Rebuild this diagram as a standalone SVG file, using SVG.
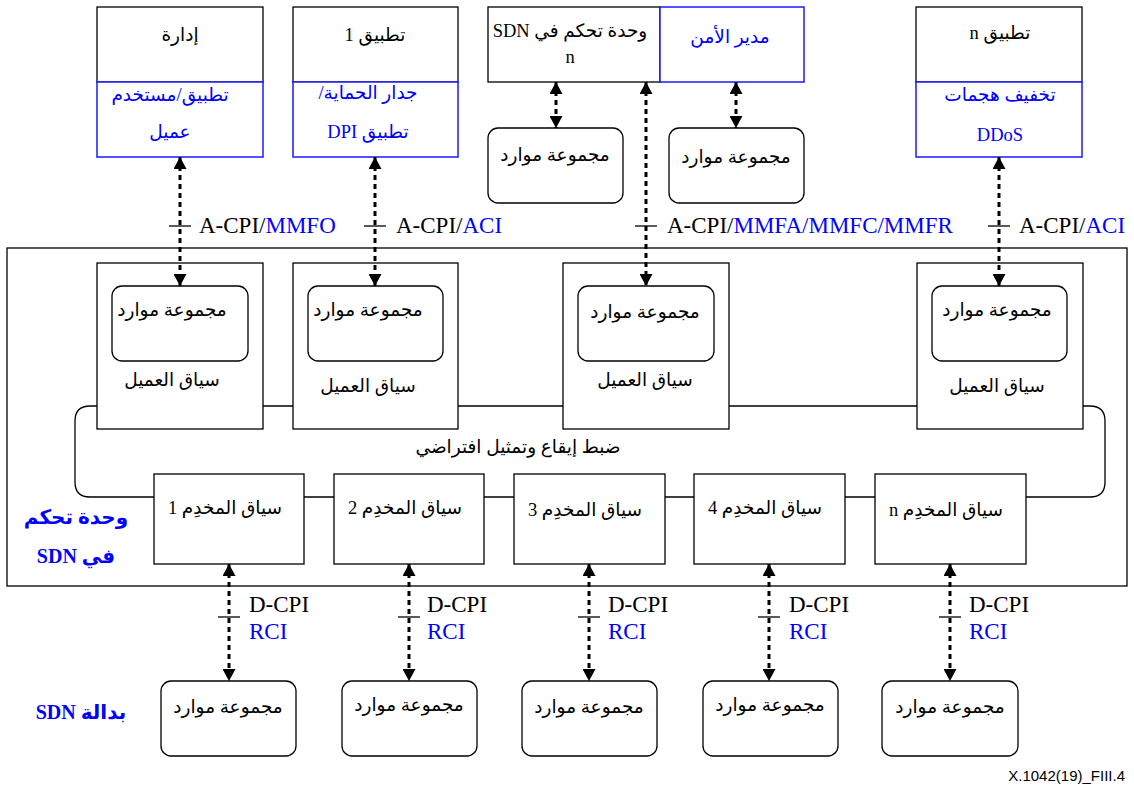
<svg xmlns="http://www.w3.org/2000/svg" width="1134" height="787" viewBox="0 0 1134 787">
<style>
  .bx { fill: #fff; stroke: #000; stroke-width: 1.3; }
  .bb { fill: #fff; stroke: #1a1aff; stroke-width: 1.5; }
  .rr { fill: #fff; stroke: #000; stroke-width: 1.3; }
  .ln { fill: none; stroke: #000; stroke-width: 1.3; }
  .cn { fill: none; stroke: #000; stroke-width: 3; stroke-dasharray: 5 4; marker-start: url(#ah); marker-end: url(#ah); }
  .tk { stroke: #000; stroke-width: 1.3; }
  .ar { font-family: 'Liberation Serif', 'DejaVu Sans', serif; font-size: 18.5px; direction: rtl; text-anchor: middle; fill: #000; }
  .lt { font-family: 'Liberation Serif', serif; font-size: 23px; fill: #000; }
  .lb { font-family: 'Liberation Serif', 'DejaVu Sans', serif; font-size: 20px; font-weight: bold; fill: #0000ff; direction: rtl; text-anchor: middle; }
  .ft { font-family: 'Liberation Sans', sans-serif; font-size: 15px; fill: #000; text-anchor: end; }
  .blue { fill: #0000ff; }
</style>
<defs>
  <marker id="ah" viewBox="0 0 12 13" refX="12" refY="6.5" markerWidth="12" markerHeight="13" markerUnits="userSpaceOnUse" orient="auto-start-reverse">
    <path d="M0,0 L12,6.5 L0,13 z" fill="#000"/>
  </marker>
</defs>
<rect width="1134" height="787" fill="#fff"/>

<!-- SDN controller outer -->
<g id="sdn-controller">
  <rect x="7" y="248" width="1120" height="338" class="ln"/>
  <text class="lb" x="76" y="524">وحدة تحكم</text>
  <text class="lb" x="76" y="563">في SDN</text>
</g>

<!-- virtualization loop -->
<g id="virtualization">
  <path d="M90,406 H1090 Q1105,406 1105,421 V482 Q1105,497 1090,497 H90 Q75,497 75,482 V421 Q75,406 90,406 Z" class="ln"/>
  <text class="ar" x="518" y="453">ضبط إيقاع وتمثيل افتراضي</text>
</g>

<!-- top application boxes -->
<g id="app-mgmt">
  <rect x="97" y="7" width="166" height="75" class="bx"/>
  <rect x="97" y="82" width="166" height="75" class="bb"/>
  <text class="ar" x="180" y="41">إدارة</text>
  <text class="ar blue" x="170" y="101">تطبيق/مستخدم</text>
  <text class="ar blue" x="170" y="138">عميل</text>
</g>
<g id="app-1">
  <rect x="293" y="7" width="165" height="75" class="bx"/>
  <rect x="293" y="82" width="165" height="75" class="bb"/>
  <text class="ar" x="375" y="41">تطبيق 1</text>
  <text class="ar blue" x="368" y="99">جدار الحماية/</text>
  <text class="ar blue" x="368" y="138">تطبيق DPI</text>
</g>
<g id="controller-n">
  <rect x="488" y="7" width="172" height="75" class="bx"/>
  <rect x="660" y="7" width="144" height="75" class="bb"/>
  <text class="ar" x="570" y="37">وحدة تحكم في SDN</text>
  <text class="ar" x="570" y="63">n</text>
  <text class="ar blue" x="730" y="43">مدير الأمن</text>
</g>
<g id="ctrl-n-rg1">
  <rect x="488" y="128" width="135" height="75" rx="10" class="rr"/>
  <text class="ar" x="555" y="161">مجموعة موارد</text>
</g>
<g id="ctrl-n-rg2">
  <rect x="669" y="128" width="135" height="75" rx="10" class="rr"/>
  <text class="ar" x="736" y="163">مجموعة موارد</text>
</g>
<g id="app-n">
  <rect x="916" y="7" width="166" height="75" class="bx"/>
  <rect x="916" y="82" width="166" height="75" class="bb"/>
  <text class="ar" x="1000" y="39">تطبيق n</text>
  <text class="ar blue" x="1000" y="101">تخفيف هجمات</text>
  <text class="ar blue" x="1000" y="141">DDoS</text>
</g>

<!-- client contexts -->
<g id="client-1">
  <rect x="97" y="263" width="166" height="166" class="bx"/>
  <rect x="112" y="286" width="136" height="75" rx="10" class="rr"/>
  <text class="ar" x="172" y="316">مجموعة موارد</text>
  <text class="ar" x="172" y="386">سياق العميل</text>
</g>
<g id="client-2">
  <rect x="293" y="263" width="165" height="166" class="bx"/>
  <rect x="308" y="286" width="135" height="75" rx="10" class="rr"/>
  <text class="ar" x="368" y="316">مجموعة موارد</text>
  <text class="ar" x="368" y="392">سياق العميل</text>
</g>
<g id="client-3">
  <rect x="563" y="263" width="166" height="166" class="bx"/>
  <rect x="578" y="286" width="136" height="75" rx="10" class="rr"/>
  <text class="ar" x="645" y="318">مجموعة موارد</text>
  <text class="ar" x="645" y="386">سياق العميل</text>
</g>
<g id="client-4">
  <rect x="917" y="263" width="166" height="166" class="bx"/>
  <rect x="932" y="286" width="135" height="75" rx="10" class="rr"/>
  <text class="ar" x="997" y="316">مجموعة موارد</text>
  <text class="ar" x="997" y="392">سياق العميل</text>
</g>

<!-- server contexts -->
<g id="server-1">
  <rect x="154" y="474" width="150" height="90" class="bx"/>
  <text class="ar" x="225" y="514">سياق المخدِم 1</text>
</g>
<g id="server-2">
  <rect x="334" y="474" width="150" height="90" class="bx"/>
  <text class="ar" x="405" y="514">سياق المخدِم 2</text>
</g>
<g id="server-3">
  <rect x="514" y="474" width="151" height="90" class="bx"/>
  <text class="ar" x="585" y="516">سياق المخدِم 3</text>
</g>
<g id="server-4">
  <rect x="694" y="474" width="151" height="90" class="bx"/>
  <text class="ar" x="765" y="514">سياق المخدِم 4</text>
</g>
<g id="server-n">
  <rect x="875" y="474" width="151" height="90" class="bx"/>
  <text class="ar" x="946" y="516">سياق المخدِم n</text>
</g>

<!-- SDN switch resource groups -->
<g id="switch-label">
  <text class="lb" x="81" y="719">بدالة SDN</text>
</g>
<g id="sw-rg1">
  <rect x="161" y="681" width="135" height="75" rx="10" class="rr"/>
  <text class="ar" x="228" y="713">مجموعة موارد</text>
</g>
<g id="sw-rg2">
  <rect x="342" y="681" width="135" height="75" rx="10" class="rr"/>
  <text class="ar" x="409" y="711">مجموعة موارد</text>
</g>
<g id="sw-rg3">
  <rect x="522" y="681" width="135" height="75" rx="10" class="rr"/>
  <text class="ar" x="589" y="713">مجموعة موارد</text>
</g>
<g id="sw-rg4">
  <rect x="703" y="681" width="135" height="75" rx="10" class="rr"/>
  <text class="ar" x="770" y="711">مجموعة موارد</text>
</g>
<g id="sw-rg5">
  <rect x="882" y="681" width="136" height="75" rx="10" class="rr"/>
  <text class="ar" x="950" y="713">مجموعة موارد</text>
</g>

<!-- connectors -->
<g id="connectors">
  <line class="cn" x1="180" y1="157" x2="180" y2="286"/>
  <line class="cn" x1="375" y1="157" x2="375" y2="286"/>
  <line class="cn" x1="556" y1="82" x2="556" y2="128"/>
  <line class="cn" x1="646" y1="82" x2="646" y2="286"/>
  <line class="cn" x1="736" y1="82" x2="736" y2="128"/>
  <line class="cn" x1="999" y1="157" x2="999" y2="286"/>
  <line class="cn" x1="229" y1="564" x2="229" y2="681"/>
  <line class="cn" x1="409" y1="564" x2="409" y2="681"/>
  <line class="cn" x1="589" y1="564" x2="589" y2="681"/>
  <line class="cn" x1="769" y1="564" x2="769" y2="681"/>
  <line class="cn" x1="950" y1="564" x2="950" y2="681"/>

  <line class="tk" x1="169" y1="226" x2="191" y2="226"/>
  <line class="tk" x1="364" y1="226" x2="386" y2="226"/>
  <line class="tk" x1="635" y1="226" x2="657" y2="226"/>
  <line class="tk" x1="988" y1="226" x2="1010" y2="226"/>
  <text class="lt" x="199" y="233">A-CPI/<tspan fill="#0000ff">MMFO</tspan></text>
  <text class="lt" x="396" y="233">A-CPI/<tspan fill="#0000ff">ACI</tspan></text>
  <text class="lt" x="667" y="233">A-CPI/<tspan fill="#0000ff">MMFA/MMFC/MMFR</tspan></text>
  <text class="lt" x="1019" y="233">A-CPI/<tspan fill="#0000ff">ACI</tspan></text>

  <line class="tk" x1="218" y1="617" x2="240" y2="617"/>
  <line class="tk" x1="398" y1="617" x2="420" y2="617"/>
  <line class="tk" x1="578" y1="617" x2="600" y2="617"/>
  <line class="tk" x1="758" y1="617" x2="780" y2="617"/>
  <line class="tk" x1="939" y1="617" x2="961" y2="617"/>
  <text class="lt" x="249" y="612">D-CPI</text>
  <text class="lt blue" x="249" y="639">RCI</text>
  <text class="lt" x="427" y="612">D-CPI</text>
  <text class="lt blue" x="427" y="639">RCI</text>
  <text class="lt" x="608" y="612">D-CPI</text>
  <text class="lt blue" x="608" y="639">RCI</text>
  <text class="lt" x="789" y="612">D-CPI</text>
  <text class="lt blue" x="789" y="639">RCI</text>
  <text class="lt" x="969" y="612">D-CPI</text>
  <text class="lt blue" x="969" y="639">RCI</text>
</g>

<text class="ft" x="1125" y="781">X.1042(19)_FIII.4</text>
</svg>
